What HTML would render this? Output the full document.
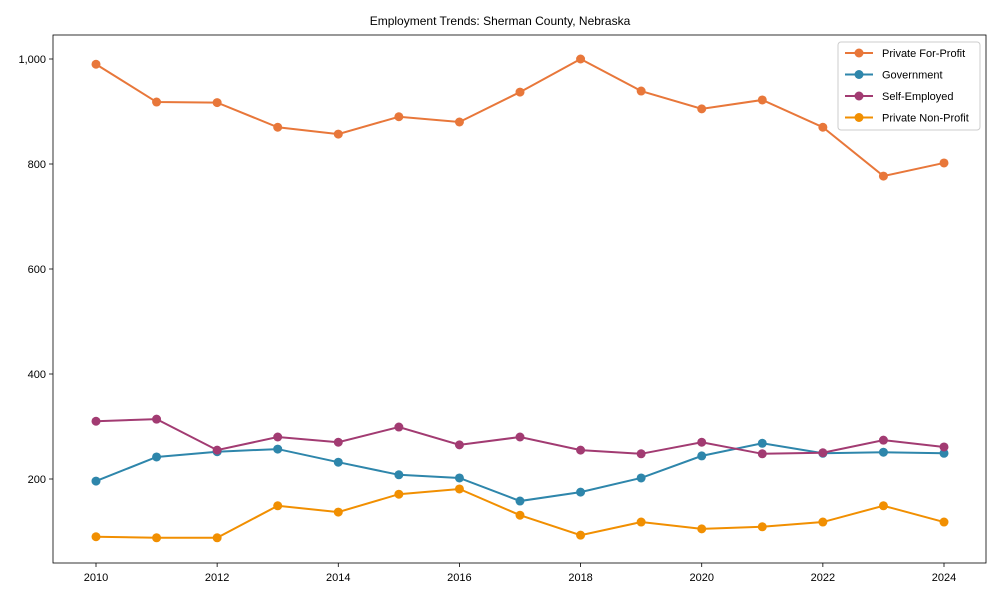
<!DOCTYPE html>
<html><head><meta charset="utf-8"><style>
body{margin:0;background:#fff;font-family:"Liberation Sans",sans-serif}
svg text{font-family:"Liberation Sans",sans-serif;fill:#000}
</style></head><body>
<svg id="c" width="1000" height="600"></svg>
<script>
const years=[2010,2011,2012,2013,2014,2015,2016,2017,2018,2019,2020,2021,2022,2023,2024];
const forProfit=[990,918,917,870,857,890,880,937,1000,939,905,922,870,777,802];
const government=[196,242,252,257,232,208,202,158,175,202,244,268,249,251,249];
const selfEmployed=[310,314,255,280,270,299,265,280,255,248,270,248,250,274,261];
const nonProfit=[90,88,88,149,137,171,181,131,93,118,105,109,118,149,118];
const yTicks=[200,400,600,800,1000];
const yTickLabels=["200","400","600","800","1,000"];
const xTicks=[2010,2012,2014,2016,2018,2020,2022,2024];
const seriesNames=["Private For-Profit","Government","Self-Employed","Private Non-Profit"];
const seriesColors=["#E8773A","#2E86AB","#A23B72","#F18F01"];
const seriesData=[forProfit,government,selfEmployed,nonProfit];

const NS="http://www.w3.org/2000/svg";
const svg=document.getElementById('c');
function mk(t,a,p){const e=document.createElementNS(NS,t);for(const k in a)e.setAttribute(k,a[k]);(p||svg).appendChild(e);return e;}
const L=53,R=986,T=35,B=563;
const xs=v=>96+(v-2010)*(944-96)/14;
const ys=v=>59+(1000-v)*0.525;

let t=mk('text',{x:500,y:25,'text-anchor':'middle','font-size':12});t.textContent="Employment Trends: Sherman County, Nebraska";


let fr=mk('rect',{x:L,y:T,width:R-L,height:B-T,fill:'none',stroke:'#000','stroke-width':0.8});


yTicks.forEach((v,i)=>{const y=ys(v);
 mk('line',{x1:L-4,x2:L,y1:y,y2:y,stroke:'#000','stroke-width':0.8});
 const tx=mk('text',{x:L-7,y:y+4,'text-anchor':'end','font-size':11});tx.textContent=yTickLabels[i];
 
 
});
xTicks.forEach(v=>{const x=xs(v);
 mk('line',{x1:x,x2:x,y1:B,y2:B+4,stroke:'#000','stroke-width':0.8});
 const tx=mk('text',{x:x,y:B+18,'text-anchor':'middle','font-size':11});tx.textContent=v;
 
 
});
seriesData.forEach((d,si)=>{
 const g=mk('g',{});
 
 
 mk('polyline',{points:d.map((v,i)=>xs(years[i])+','+ys(v)).join(' '),fill:'none',stroke:seriesColors[si],'stroke-width':2},g);
 d.forEach((v,i)=>{const c=mk('circle',{cx:xs(years[i]),cy:ys(v),r:4.5,fill:seriesColors[si]},g);
  
  });
});
const lg=mk('g',{});


mk('rect',{x:838,y:42,width:142,height:88,fill:'#fff',stroke:'#ccc',rx:3},lg);
seriesNames.forEach((n,i)=>{const y=53+i*21.5;
 const e=mk('g',{},lg);
 
 
 mk('line',{x1:845,x2:873,y1:y,y2:y,stroke:seriesColors[i],'stroke-width':2},e);
 mk('circle',{cx:859,cy:y,r:4.5,fill:seriesColors[i]},e);
 const tx=mk('text',{x:882,y:y+4,'font-size':11},e);tx.textContent=n;
});
</script>
</body></html>
